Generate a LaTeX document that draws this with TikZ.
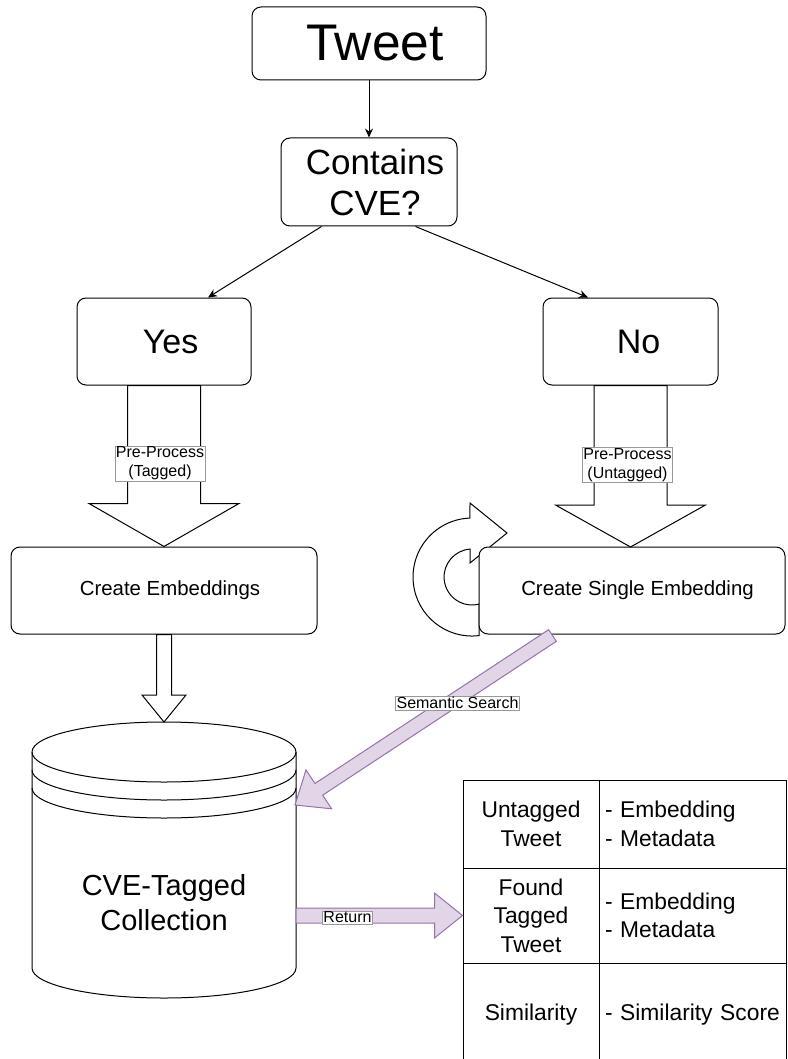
\documentclass[tikz,border=0pt]{standalone}
\usepackage{fontspec}
\setmainfont{Liberation Sans}
\usetikzlibrary{calc,arrows.meta}
\definecolor{pfill}{HTML}{E1D5E7}
\definecolor{pdraw}{HTML}{9673A6}
\tikzset{
  box/.style={draw, rounded corners=9pt, line width=1pt, fill=white, inner sep=0pt, align=center},
  lbl/.style={draw=black!40, line width=0.5pt, fill=white, inner sep=1pt, align=center, font=\fontsize{16}{19}\selectfont},
  conn/.style={line width=1pt, -{Stealth[length=9pt,width=8pt]}},
  blockarrow/.style={draw, line width=1pt, fill=white, line join=miter},
  purplearrow/.style={draw=pdraw, fill=pfill, line width=1pt, line join=miter},
  cell/.style={draw, line width=1pt, inner sep=0pt, minimum width=136pt, font=\fontsize{22.8}{28.5}\selectfont, align=center},
  rcell/.style={draw, line width=1pt, inner xsep=6pt, inner ysep=0pt, text width=175.5pt, minimum width=187.5pt, font=\fontsize{22.8}{28.5}\selectfont, align=left},
}
\newcommand\shtxt[2]{\hspace*{#1}#2}
\newcommand\fatarrow[6]{%
  \path ($(#2)!#5!(#1)$) coordinate (fabase);
  \draw[#6] ($(#1)!#3!90:(#2)$) -- ($(fabase)!#3!90:(#2)$) -- ($(fabase)!#4!90:(#2)$) -- (#2) -- ($(fabase)!#4!-90:(#2)$) -- ($(fabase)!#3!-90:(#2)$) -- ($(#1)!#3!-90:(#2)$) -- cycle;
}
\begin{document}
\begin{tikzpicture}[x=1pt,y=-1pt]
\useasboundingbox (0,0) rectangle (787,1059);
\fill[white] (0,0) rectangle (787,1059);
\clip (0,0) rectangle (787,1059);

% top boxes
\node[box, minimum width=234pt, minimum height=73pt, font=\fontsize{51.5}{60}\selectfont] (tweet) at (369,43.5) {\shtxt{12pt}{Tweet}};
\node[box, minimum width=176pt, minimum height=88pt, font=\fontsize{35}{41}\selectfont] (contains) at (369,182) {\shtxt{12pt}{Contains}\\\shtxt{12pt}{CVE?}};
\node[box, minimum width=174pt, minimum height=87pt, font=\fontsize{34}{40}\selectfont] (yes) at (164,341.5) {\shtxt{13pt}{Yes}};
\node[box, minimum width=175pt, minimum height=87pt, font=\fontsize{34}{40}\selectfont] (no) at (630.5,341.5) {\shtxt{16pt}{No}};

\draw[conn] (tweet) -- (contains);
\draw[conn] ($(contains.south west)+(41,0)$) -- ($(yes.north)+(44,0)$);
\draw[conn] ($(contains.south east)+(-42,0)$) -- ($(no.north)+(-42.5,0)$);

% circular arrow
\draw[line width=1pt, fill=white, line join=miter] (470,503) -- (507,533) -- (470,563) -- (470,549.1)
  arc[start angle=265.8, end angle=75.5, radius=28] -- (479,635.6)
  arc[start angle=83.2, end angle=268, radius=59] -- cycle;

% embedding boxes
\node[box, minimum width=306pt, minimum height=87pt, font=\fontsize{20.4}{24}\selectfont] (ce) at (164,590.5) {\shtxt{12pt}{Create Embeddings}};
\node[box, minimum width=306pt, minimum height=87pt, font=\fontsize{20.4}{24}\selectfont] (cse) at (632,590.5) {\shtxt{11pt}{Create Single Embedding}};

% block arrows
\fatarrow{yes.south}{ce.north}{36.5pt}{75pt}{43pt}{blockarrow}
\path (no.south) coordinate (notail);
\path (630.5,547) coordinate (notip);
\fatarrow{notail}{notip}{36.5pt}{75pt}{42pt}{blockarrow}
\node[lbl] (lbltag) at (160,463.5) {Pre-Process\\(Tagged)};
\node[lbl] (lbluntag) at (627.5,465) {Pre-Process\\(Untagged)};

% cylinder
\draw[line width=1pt, fill=white] (32,752) -- (32,968) arc[start angle=180, end angle=0, x radius=132, y radius=30]
  -- (296,752) arc[start angle=0, end angle=-180, x radius=132, y radius=30] -- cycle;
\draw[line width=1pt] (32,752) arc[start angle=180, end angle=0, x radius=132, y radius=30];
\draw[line width=1pt] (32,770) arc[start angle=180, end angle=0, x radius=132, y radius=30];
\draw[line width=1pt] (32,788) arc[start angle=180, end angle=0, x radius=132, y radius=30];
\node[font=\fontsize{29}{35}\selectfont, align=center, inner sep=0pt] (coll) at (164,903) {CVE-Tagged\\Collection};
\coordinate (cyltop) at (164,722);
\coordinate (sstip) at (295,805);
\coordinate (rettail) at (296,915.5);
\coordinate (sstail) at ($(cse.south west)+(74,1)$);

\fatarrow{ce.south}{cyltop}{7.5pt}{22pt}{27pt}{blockarrow}

% table
\node[cell, minimum height=88pt] (c1l) at (531,824) {Untagged\\Tweet};
\node[rcell, minimum height=88pt] (c1r) at (692.75,824) {- Embedding\\- Metadata};
\node[cell, minimum height=95pt] (c2l) at (531,915.5) {Found\\Tagged\\Tweet};
\node[rcell, minimum height=95pt] (c2r) at (692.75,915.5) {- Embedding\\- Metadata};
\node[cell, minimum height=104pt] (c3l) at (531,1015) {Similarity};
\node[rcell, minimum height=104pt] (c3r) at (692.75,1015) {- Similarity Score};

% purple arrows
\fatarrow{sstail}{sstip}{7pt}{23.3pt}{28.5pt}{purplearrow}
\fatarrow{rettail}{c2l.west}{7.5pt}{22.5pt}{28pt}{purplearrow}
\node[lbl] (lblsem) at (457.5,703) {Semantic Search};
\node[lbl] (lblret) at (347.5,917.5) {Return};
\end{tikzpicture}
\end{document}
